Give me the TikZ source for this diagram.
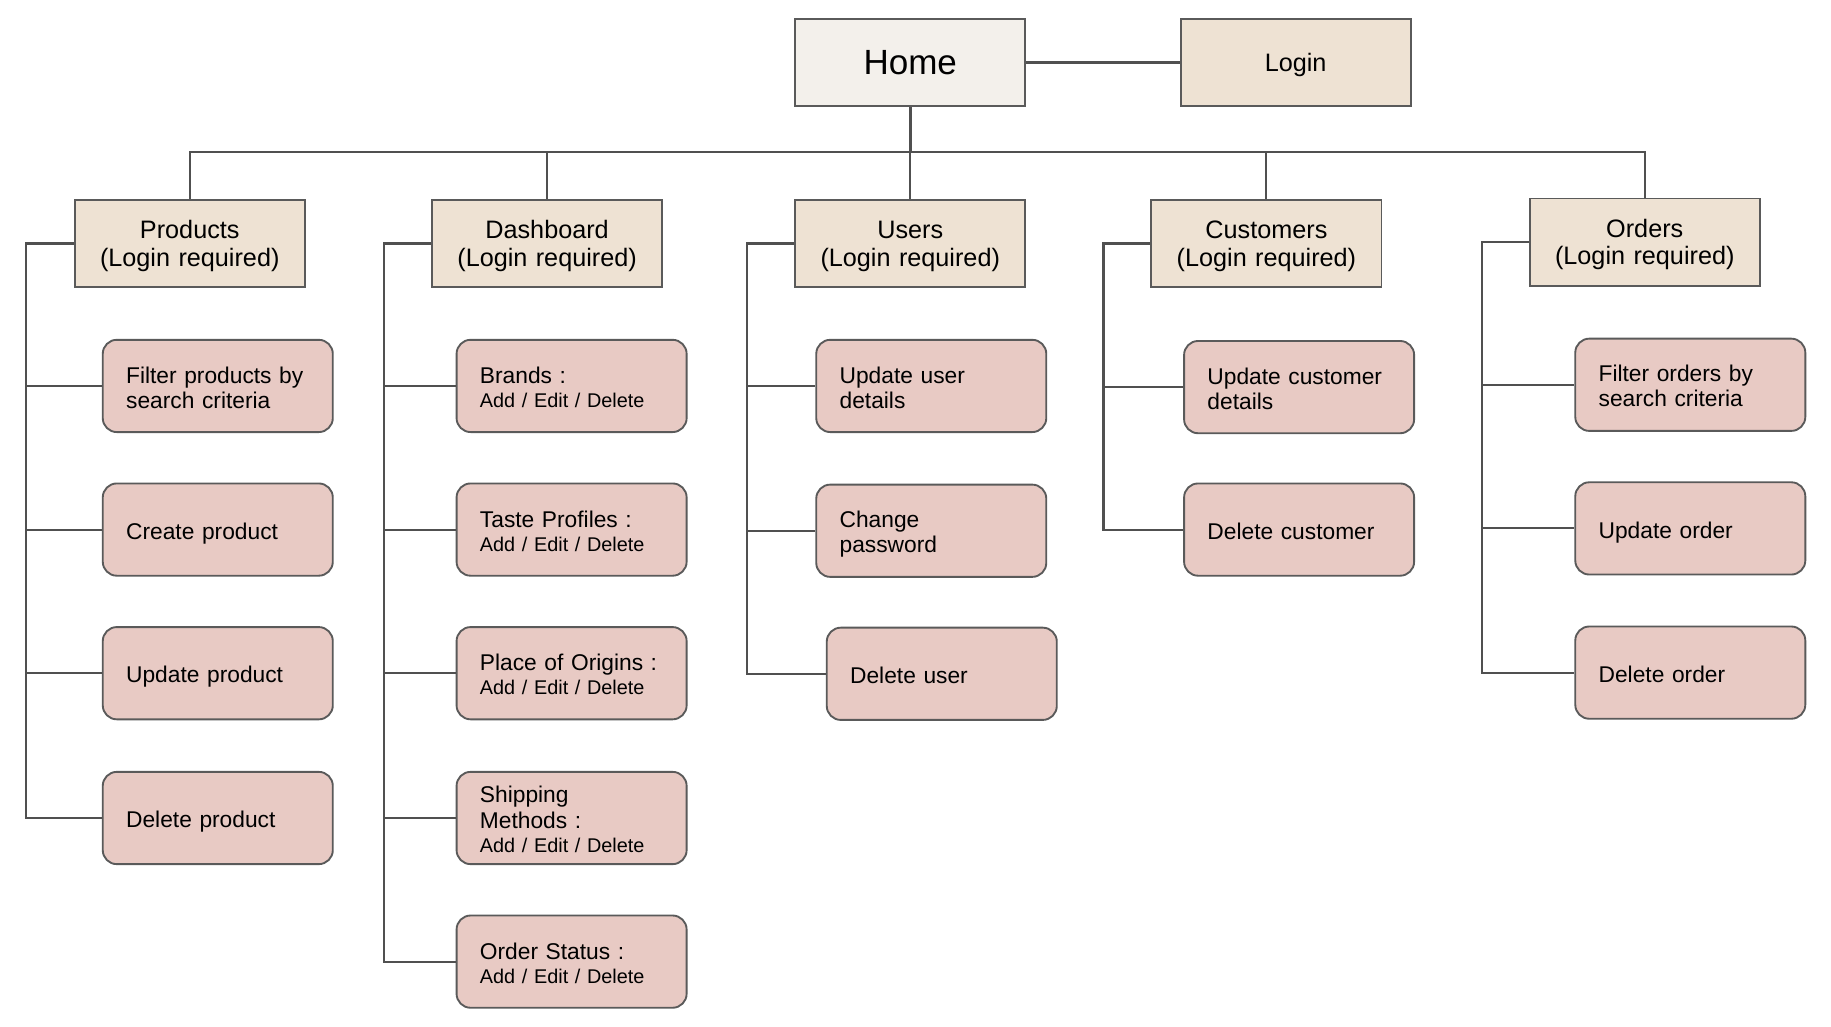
\documentclass[tikz,border=0pt]{standalone}
\usepackage{fontspec}
\setmainfont{Liberation Sans}
\definecolor{homec}{HTML}{F3F0EB}
\definecolor{headc}{HTML}{EEE2D3}
\definecolor{leafc}{HTML}{E8CAC4}
\definecolor{bordc}{HTML}{5A5A5A}
\definecolor{linec}{HTML}{505050}
\newcommand{\topstrut}{\rule{0pt}{0.905em}}
\newcommand{\leaftopstrut}{\rule{0pt}{\dimexpr0.905em+3pt\relax}}
\newcommand{\botstrut}{\rule[-0.212em]{0pt}{0.212em}}
\newcommand{\aedline}{\\[-0.7pt]{\fontsize{17}{20}\selectfont\spaceskip=5.7pt Add / Edit / Delete}}
\begin{document}
\begin{tikzpicture}[x=1pt,y=-1pt,
  box/.style={draw=bordc, line width=1.6pt, minimum width=197pt, inner sep=0pt,
    execute at begin node=\topstrut, execute at end node=\botstrut},
  homebox/.style={box, fill=homec, minimum height=75pt, font=\fontsize{30}{34}\selectfont},
  headbox/.style={box, fill=headc, minimum height=75pt, text width=197pt, align=center, font=\fontsize{21.6}{23.7}\selectfont},
  leaf/.style={box, fill=leafc, rounded corners=12pt, minimum height=79pt, text width=157pt, inner xsep=20pt, align=left, font=\fontsize{19.5}{21.5}\selectfont,
    execute at begin node=\leaftopstrut},
  conn/.style={draw=linec, line width=1.8pt}]
\useasboundingbox[fill=white] (0,0) rectangle (1568,879);

% top
\node[homebox] (home) at (779.5,53.5) {Home};
\node[headbox] (login) at (1109.5,53.5) {Login};

% heads
\node[headbox] (prod) at (162.5,208.5) {Products\\(Login required)};
\node[headbox] (dash) at (468.5,208.5) {Dashboard\\(Login required)};
\node[headbox] (users) at (779.5,208.5) {Users\\(Login required)};
\node[headbox] (cust) at (1084.5,208.5) {Customers\\(Login required)};
\node[headbox] (ord) at (1408.5,207.5) {Orders\\(Login required)};

% products
\node[leaf] (p1) at (186.5,330.5) {Filter products by\\search criteria};
\node[leaf] (p2) at (186.5,453.5) {Create product};
\node[leaf] (p3) at (186.5,576.5) {Update product};
\node[leaf] (p4) at (186.5,700.5) {Delete product};

% dashboard
\node[leaf] (d1) at (489.5,330.5) {Brands :\aedline};
\node[leaf] (d2) at (489.5,453.5) {Taste Profiles :\aedline};
\node[leaf] (d3) at (489.5,576.5) {Place of Origins :\aedline};
\node[leaf] (d4) at (489.5,700.5) {Shipping\\Methods :\aedline};
\node[leaf] (d5) at (489.5,823.5) {Order Status :\aedline};

% users
\node[leaf] (u1) at (797.5,330.5) {Update user\\details};
\node[leaf] (u2) at (797.5,454.5) {Change\\password};
\node[leaf] (u3) at (806.5,577) {Delete user};

% customers
\node[leaf] (c1) at (1112.5,331.5) {Update customer\\details};
\node[leaf] (c2) at (1112.5,453.5) {Delete customer};

% orders
\node[leaf] (o1) at (1447.5,329.5) {Filter orders by\\search criteria};
\node[leaf] (o2) at (1447.5,452.5) {Update order};
\node[leaf] (o3) at (1447.5,576) {Delete order};

% top connectors
\draw[conn] (home.east) -- (login.west);
\draw[conn, line width=2.2pt] (home.south) -- ++(0,38.5) coordinate (hub);
\draw[conn] (prod.north) |- (hub);
\draw[conn] (ord.north) |- (hub);
\draw[conn] (dash.north) -- (dash.north |- hub);
\draw[conn] (users.north) -- (hub);
\draw[conn] (cust.north) -- (cust.north |- hub);

% spines
\draw[conn] (prod.west) -- (22,208.5) coordinate (ps) |- (p4.west);
\foreach \n in {p1,p2,p3} \draw[conn] (ps |- \n.west) -- (\n.west);

\draw[conn] (dash.west) -- (329,208.5) coordinate (ds) |- (d5.west);
\foreach \n in {d1,d2,d3,d4} \draw[conn] (ds |- \n.west) -- (\n.west);

\draw[conn] (users.west) -- (640,208.5) coordinate (us) |- (u3.west);
\foreach \n in {u1,u2} \draw[conn] (us |- \n.west) -- (\n.west);

\draw[conn] (cust.west) -- (945,208.5) coordinate (cs) |- (c2.west);
\draw[conn] (cs |- c1.west) -- (c1.west);

\draw[conn] (ord.west) -- (1269,207.5) coordinate (os) |- (o3.west);
\foreach \n in {o1,o2} \draw[conn] (os |- \n.west) -- (\n.west);
\end{tikzpicture}
\end{document}
